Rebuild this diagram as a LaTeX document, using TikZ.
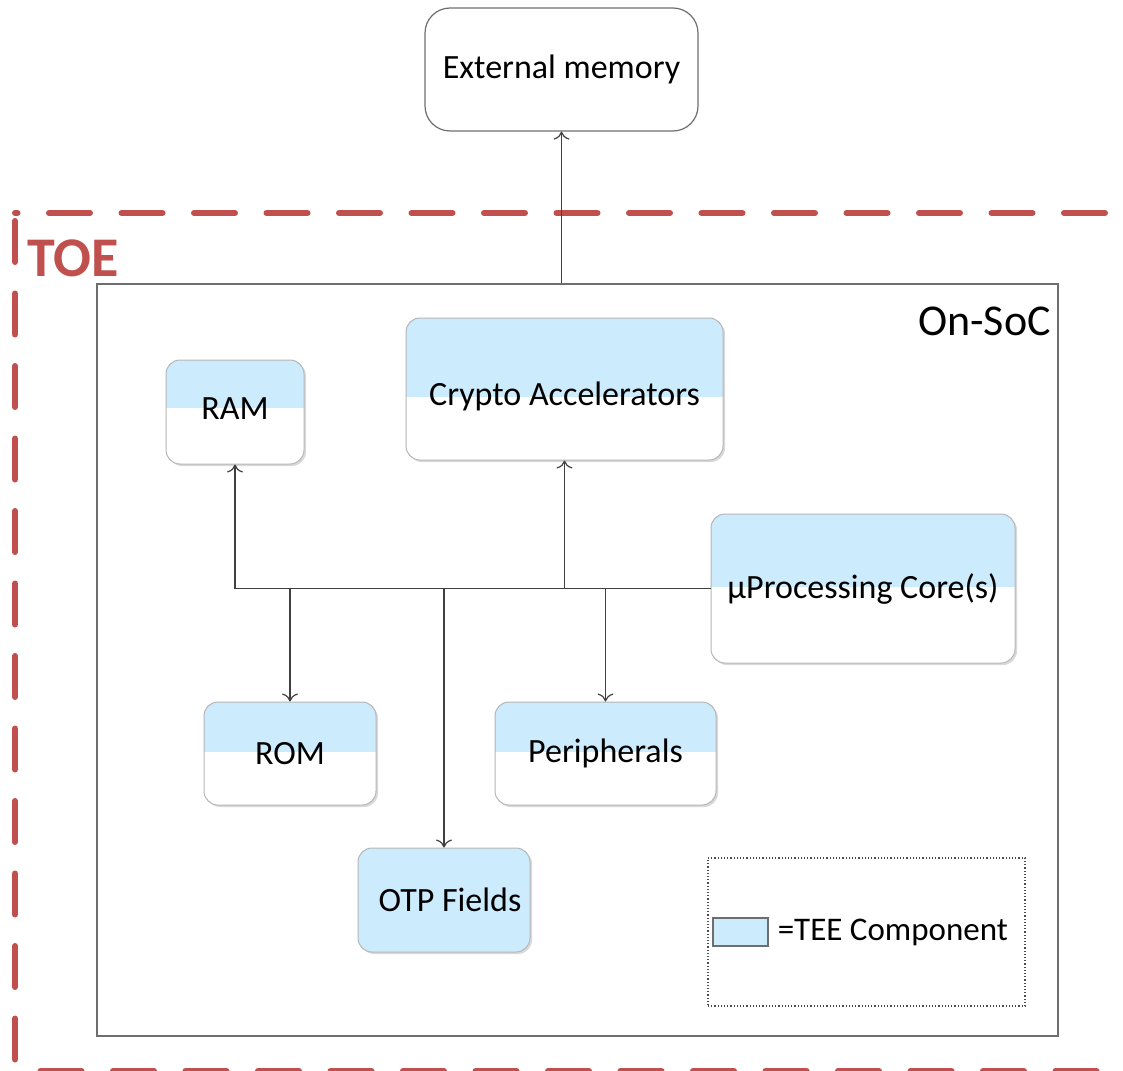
\documentclass[tikz,border=0pt]{standalone}
\usepackage{fontspec}
\setmainfont{Carlito}
\usetikzlibrary{arrows.meta, positioning, shadows}
\definecolor{teeblue}{RGB}{204,235,252}
\definecolor{toered}{RGB}{192,80,77}
\definecolor{edgegray}{RGB}{110,110,110}
\tikzset{%
	comp/.style={draw=edgegray!50, line width=1pt, rounded corners=14pt, fill=white, inner sep=0pt,%
		font=\fontsize{34}{40}\selectfont, drop shadow={shadow xshift=2pt, shadow yshift=-2pt, opacity=0.3}},
	tee/.style={comp, path picture={\fill[teeblue, sharp corners] (path picture bounding box.north west)
		rectangle ([yshift=#1]path picture bounding box.east);}},
	tee/.default=0pt,
	plain/.style={draw=edgegray, line width=1.2pt, rounded corners=25pt, inner sep=0pt, font=\fontsize{34}{40}\selectfont},
	soc/.style={draw=edgegray, line width=1.5pt, minimum width=961pt, minimum height=752pt},
	toe/.style={draw=toered, line width=6pt, line cap=round, dash pattern=on 41pt off 31.5pt},
	legendbox/.style={draw=black!70, line width=1.2pt, dotted},
	swatch/.style={draw=edgegray, line width=1.2pt, fill=teeblue, minimum width=55pt, minimum height=28pt, inner sep=0pt},
	sel/.style={-{To[length=8pt,width=16pt]}, line width=1.2pt, draw=black!75},
	wire/.style={line width=1.2pt, draw=black!75}
}
\begin{document}
\begin{tikzpicture}[x=1pt, y=-1pt]
\useasboundingbox (0,0) rectangle (1123,1070);
\draw[toe, dash phase=69.5pt] (1108,213) -- (15,213);
\draw[toe, dash phase=64.5pt] (15,213) -- (15,1071);
\draw[toe, dash phase=47pt] (15,1071) -- (1110,1071);
\node[text=toered, font=\fontsize{56}{60}\selectfont\bfseries] (toe) at (73,258) {TOE};

\node[soc] (soc) at (577.5,660) {};
\node[anchor=east, inner sep=0pt, font=\fontsize{44}{50}\selectfont] (soc-name) at (1051,321) {On-SoC};
\node[plain, minimum width=273pt, minimum height=123pt] (ext) at (561.5,69.5) {External memory};

\node[tee=4pt, minimum width=138pt, minimum height=104pt] (ram) at (235,412) {\raisebox{0pt}[\height][\dimexpr\depth+6pt]{RAM}};
\node[tee=-8pt, minimum width=317pt, minimum height=142pt] (crypto) at (564.5,389) {\raisebox{0pt}[\dimexpr\height+14pt][\depth]{Crypto Accelerators}};
\node[tee=1.5pt, minimum width=304pt, minimum height=149pt] (core) at (863,588.5) {µProcessing Core(s)};
\node[tee=1.5pt, minimum width=172pt, minimum height=103pt] (rom) at (290,753.5) {ROM};
\node[tee=1.5pt, minimum width=221pt, minimum height=103pt] (periph) at (605.5,753.5) {Peripherals};
\node[tee=-60pt, minimum width=172pt, minimum height=104pt] (otp) at (444,900) {\hspace{12pt}OTP Fields};

\node[legendbox, minimum width=317pt, minimum height=148pt] (legend) at (866.5,932) {};
\node[swatch] (swatch) at (740.5,932) {};
\node[inner sep=0pt, font=\fontsize{33}{36}\selectfont] (legend-text) [right=9pt of swatch] {=TEE Component};

\draw[sel] (ext.south |- soc.north) -- (ext.south);
\draw[wire] (ram.south |- core.west) -- (core.west);
\draw[sel] (ram.south |- core.west) -- (ram.south);
\draw[sel] (crypto.south |- core.west) -- (crypto.south);
\draw[sel] (rom.north |- core.west) -- (rom.north);
\draw[sel] (otp.north |- core.west) -- (otp.north);
\draw[sel] (periph.north |- core.west) -- (periph.north);
\end{tikzpicture}
\end{document}
